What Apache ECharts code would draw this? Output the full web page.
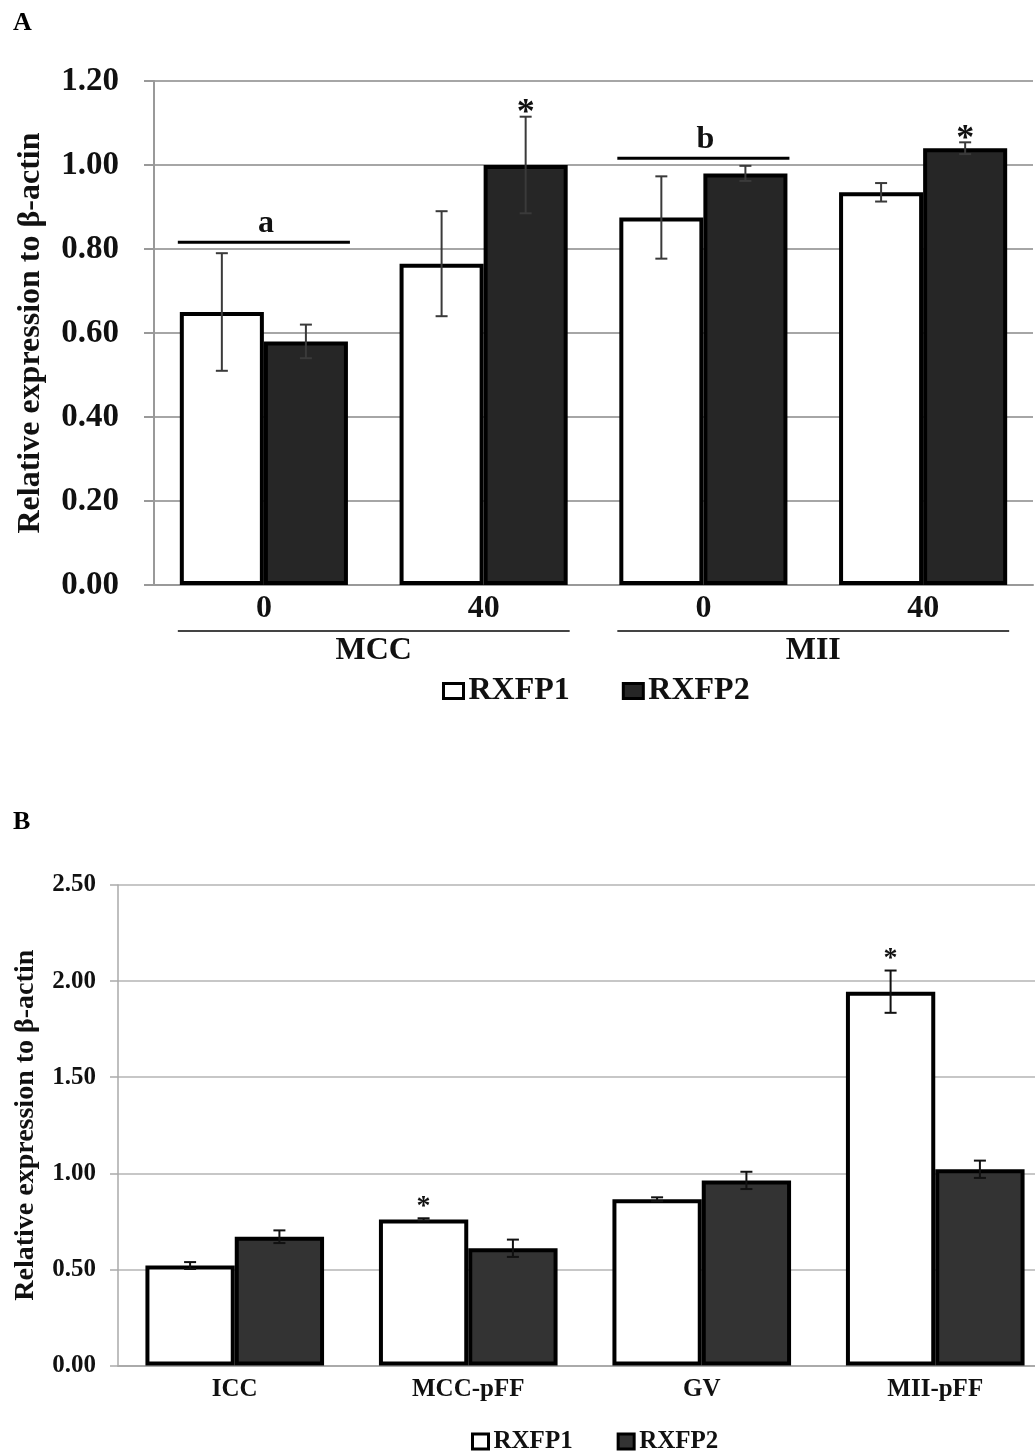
<!DOCTYPE html>
<html>
<head>
<meta charset="utf-8">
<script src="https://cdn.jsdelivr.net/npm/echarts@6/dist/echarts.min.js"></script>
<style>html,body{margin:0;padding:0;background:#fff;overflow:hidden}#c{width:1060px;height:1452px}</style>
</head>
<body>
<div id="c"></div>
<script>
// ---------- Panel A data ----------
const catsA = ['0', '40', '0', '40'];
const rxfp1A = [0.65, 0.765, 0.875, 0.935];
const rxfp2A = [0.58, 1.00, 0.98, 1.04];
const err1A = [0.14, 0.125, 0.098, 0.022];
const err2A = [0.04, 0.115, 0.018, 0.014];
const star1A = [0, 0, 0, 0];
const star2A = [0, 1, 0, 1];
const sigCatsA = [0, 2];
const sigYA = [0.816, 1.016];
const sigLabelsA = ['a', 'b'];
const groupStartA = [0, 2];
const groupEndA = [1, 3];
const groupNamesA = ['MCC', 'MII'];

// ---------- Panel B data ----------
const catsB = ['ICC', 'MCC-pFF', 'GV', 'MII-pFF'];
const rxfp1B = [0.52, 0.76, 0.865, 1.945];
const rxfp2B = [0.67, 0.61, 0.963, 1.021];
const err1B = [0.018, 0.006, 0.01, 0.11];
const err2B = [0.033, 0.045, 0.045, 0.045];
const star1B = [0, 1, 0, 1];
const star2B = [0, 0, 0, 0];

const yName = 'Relative expression to β-actin';
const FONT = '"Liberation Serif", "Times New Roman", serif';
const GAP_A = 0.235, GAP_B = 0.235;

function errData(v1, e1, s1, v2, e2, s2) {
  const out = [];
  for (let i = 0; i < v1.length; i++) {
    out.push([i, v1[i], e1[i], 0, s1[i]]);
    out.push([i, v2[i], e2[i], 1, s2[i]]);
  }
  return out;
}

function errRender(gap, color, starSize, starOff) {
  return function (params, api) {
    const ci = api.value(0), v = api.value(1), e = api.value(2), si = api.value(3), st = api.value(4);
    const band = api.size([1, 0])[0];
    const bw = band * (1 - gap) / 2;
    const dx = si === 0 ? -bw / 2 : bw / 2;
    const pt = api.coord([ci, v + e]);
    const pb = api.coord([ci, v - e]);
    const x = pt[0] + dx;
    const cap = 6;
    const ls = { stroke: color, lineWidth: 2 };
    const ch = [
      { type: 'line', shape: { x1: x, y1: pt[1], x2: x, y2: pb[1] }, style: ls },
      { type: 'line', shape: { x1: x - cap, y1: pt[1], x2: x + cap, y2: pt[1] }, style: ls },
      { type: 'line', shape: { x1: x - cap, y1: pb[1], x2: x + cap, y2: pb[1] }, style: ls }
    ];
    if (st) {
      ch.push({ type: 'text', x: x, y: pt[1] - starOff,
        style: { text: '*', fontSize: starSize, fontFamily: FONT, fontWeight: 'bold',
                 fill: '#111', align: 'center', verticalAlign: 'middle' } });
    }
    return { type: 'group', children: ch };
  };
}

function sigRender(params, api) {
  const ci = api.value(0), yv = api.value(1);
  const band = api.size([1, 0])[0];
  const pw = band * (1 - GAP_A) + 4;
  const p = api.coord([ci, yv]);
  return { type: 'group', children: [
    { type: 'line', shape: { x1: p[0] - pw / 2, y1: p[1], x2: p[0] + pw / 2, y2: p[1] },
      style: { stroke: '#000', lineWidth: 3 } },
    { type: 'text', x: p[0] + 2, y: p[1] - 3,
      style: { text: sigLabelsA[params.dataIndex], fontSize: 32, fontFamily: FONT, fontWeight: 'bold',
               fill: '#111', align: 'center', verticalAlign: 'bottom' } }
  ] };
}

function groupRender(params, api) {
  const s = api.value(0), e = api.value(1);
  const band = api.size([1, 0])[0];
  const pw = band * (1 - GAP_A) + 4;
  const ps = api.coord([s, 0]);
  const pe = api.coord([e, 0]);
  const y = ps[1] + 46;
  const x1 = ps[0] - pw / 2, x2 = pe[0] + pw / 2;
  return { type: 'group', children: [
    { type: 'line', shape: { x1: x1, y1: y, x2: x2, y2: y }, style: { stroke: '#444', lineWidth: 2 } },
    { type: 'text', x: (x1 + x2) / 2, y: y + 20,
      style: { text: groupNamesA[params.dataIndex], fontSize: 32, fontFamily: FONT, fontWeight: 'bold',
               fill: '#111', align: 'center', verticalAlign: 'middle' } }
  ] };
}

const sigDataA = sigCatsA.map((c, i) => [c, sigYA[i]]);
const groupDataA = groupStartA.map((s, i) => [s, groupEndA[i]]);

const chart = echarts.init(document.getElementById('c'), null, { renderer: 'canvas' });
const tick2 = v => v.toFixed(2);

chart.setOption({
  animation: false,
  backgroundColor: '#fff',
  title: [
    { text: 'A', left: 8, top: 5, textStyle: { fontFamily: FONT, fontWeight: 'bold', fontSize: 26, color: '#000' } },
    { text: 'B', left: 8, top: 804, textStyle: { fontFamily: FONT, fontWeight: 'bold', fontSize: 26, color: '#000' } }
  ],
  legend: [
    { left: 437, top: 670, itemWidth: 20, itemHeight: 15, itemGap: 52, selectedMode: false,
      textStyle: { fontFamily: FONT, fontWeight: 'bold', fontSize: 32, color: '#111' },
      data: [
        { name: 'RXFP1', icon: 'rect', itemStyle: { color: '#fff', borderColor: '#000', borderWidth: 3 } },
        { name: 'RXFP2', icon: 'rect', itemStyle: { color: '#262626', borderColor: '#000', borderWidth: 3 } }
      ] },
    { left: 466, top: 1424, itemWidth: 16, itemHeight: 15, itemGap: 44, selectedMode: false,
      textStyle: { fontFamily: FONT, fontWeight: 'bold', fontSize: 25, color: '#111' },
      data: [
        { name: 'RXFP1', icon: 'rect', itemStyle: { color: '#fff', borderColor: '#000', borderWidth: 3 } },
        { name: 'RXFP2', icon: 'rect', itemStyle: { color: '#333', borderColor: '#000', borderWidth: 3 } }
      ] }
  ],
  grid: [
    { left: 154, width: 879, top: 81, height: 504 },
    { left: 118, width: 934, top: 885, height: 480.5 }
  ],
  xAxis: [
    { type: 'category', gridIndex: 0, data: catsA,
      axisLine: { show: true, lineStyle: { color: '#999', width: 2 } },
      axisTick: { show: false },
      axisLabel: { margin: 8, fontFamily: FONT, fontWeight: 'bold', fontSize: 32, color: '#111' } },
    { type: 'category', gridIndex: 1, data: catsB,
      axisLine: { show: true, lineStyle: { color: '#aaa', width: 2 } },
      axisTick: { show: false },
      axisLabel: { margin: 12, fontFamily: FONT, fontWeight: 'bold', fontSize: 25, color: '#111' } }
  ],
  yAxis: [
    { type: 'value', gridIndex: 0, min: 0, max: 1.2, interval: 0.2,
      name: yName, nameLocation: 'middle', nameRotate: 90, nameGap: 107,
      nameTextStyle: { fontFamily: FONT, fontWeight: 'bold', fontSize: 32, color: '#111' },
      axisLine: { show: true, lineStyle: { color: '#999', width: 2 } },
      axisTick: { show: true, length: 10, lineStyle: { color: '#999', width: 2 } },
      splitLine: { show: true, lineStyle: { color: '#a6a6a6', width: 2 } },
      axisLabel: { margin: 35, formatter: tick2, fontFamily: FONT, fontWeight: 'bold', fontSize: 33, color: '#111' } },
    { type: 'value', gridIndex: 1, min: 0, max: 2.5, interval: 0.5,
      name: yName, nameLocation: 'middle', nameRotate: 90, nameGap: 78,
      nameTextStyle: { fontFamily: FONT, fontWeight: 'bold', fontSize: 28, color: '#111' },
      axisLine: { show: true, lineStyle: { color: '#aaa', width: 1.5 } },
      axisTick: { show: true, length: 8, lineStyle: { color: '#aaa', width: 1.5 } },
      splitLine: { show: true, lineStyle: { color: '#b5b5b5', width: 1.5 } },
      axisLabel: { margin: 22, formatter: tick2, fontFamily: FONT, fontWeight: 'bold', fontSize: 25, color: '#111' } }
  ],
  series: [
    { type: 'bar', name: 'RXFP1', xAxisIndex: 0, yAxisIndex: 0, data: rxfp1A, barGap: '0%', barCategoryGap: (GAP_A * 100) + '%',
      itemStyle: { color: '#fff', borderColor: '#000', borderWidth: 4 } },
    { type: 'bar', name: 'RXFP2', xAxisIndex: 0, yAxisIndex: 0, data: rxfp2A, barGap: '0%', barCategoryGap: (GAP_A * 100) + '%',
      itemStyle: { color: '#262626', borderColor: '#000', borderWidth: 4 } },
    { type: 'bar', name: 'RXFP1', xAxisIndex: 1, yAxisIndex: 1, data: rxfp1B, barGap: '0%', barCategoryGap: (GAP_B * 100) + '%',
      itemStyle: { color: '#fff', borderColor: '#000', borderWidth: 4 } },
    { type: 'bar', name: 'RXFP2', xAxisIndex: 1, yAxisIndex: 1, data: rxfp2B, barGap: '0%', barCategoryGap: (GAP_B * 100) + '%',
      itemStyle: { color: '#333', borderColor: '#000', borderWidth: 4 } },
    { type: 'custom', name: 'errA', xAxisIndex: 0, yAxisIndex: 0, z: 5, silent: true,
      data: errData(rxfp1A, err1A, star1A, rxfp2A, err2A, star2A),
      encode: { x: 0, y: 1 }, renderItem: errRender(GAP_A, '#3a3a3a', 36, 3) },
    { type: 'custom', name: 'errB', xAxisIndex: 1, yAxisIndex: 1, z: 5, silent: true,
      data: errData(rxfp1B, err1B, star1B, rxfp2B, err2B, star2B),
      encode: { x: 0, y: 1 }, renderItem: errRender(GAP_B, '#111', 28, 12) },
    { type: 'custom', name: 'sigA', xAxisIndex: 0, yAxisIndex: 0, z: 5, silent: true,
      data: sigDataA, encode: { x: 0, y: 1 }, renderItem: sigRender },
    { type: 'custom', name: 'groupA', xAxisIndex: 0, yAxisIndex: 0, z: 5, silent: true, clip: false,
      data: groupDataA, encode: { x: 0 }, renderItem: groupRender }
  ]
});
</script>
</body>
</html>
